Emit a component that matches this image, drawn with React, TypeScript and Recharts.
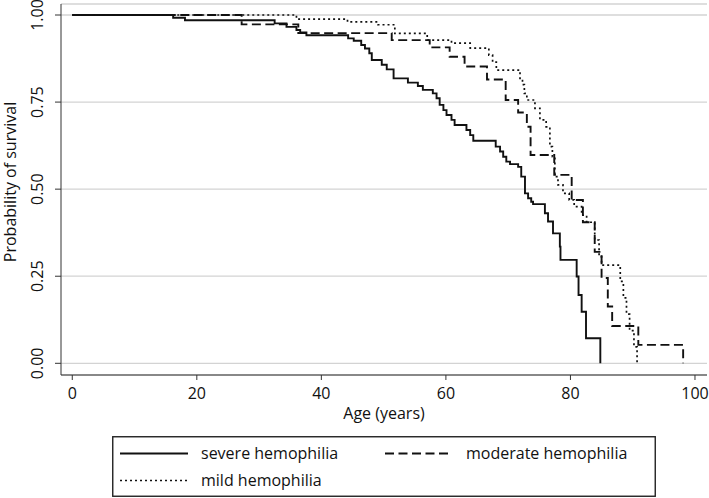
import React from "react";
import { LineChart, Line, XAxis, YAxis, CartesianGrid } from "recharts";

const FONT = "'Open Sans', 'Noto Sans', sans-serif";

// Kaplan-Meier estimates (age in years, probability of survival)
const severeAge = [0, 16.2, 18.1, 32.5, 34.4, 36.0, 36.6, 37.6, 44.3, 45.2, 46.4, 47.0, 47.7, 48.1, 49.7, 50.5, 51.6, 53.9, 55.5, 56.3, 57.9, 58.5, 59.0, 59.6, 60.1, 60.9, 61.4, 63.3, 63.9, 64.4, 68.0, 68.7, 69.2, 69.7, 70.3, 71.6, 72.1, 72.7, 73.2, 73.7, 74.0, 75.9, 76.4, 77.2, 78.3, 78.4, 81.0, 81.3, 81.8, 82.5, 84.8];
const severeSurv = [1, 0.992, 0.985, 0.976, 0.966, 0.957, 0.95, 0.942, 0.933, 0.926, 0.914, 0.904, 0.89, 0.871, 0.857, 0.844, 0.818, 0.806, 0.796, 0.785, 0.775, 0.761, 0.742, 0.727, 0.713, 0.699, 0.684, 0.67, 0.655, 0.639, 0.622, 0.608, 0.593, 0.579, 0.572, 0.564, 0.536, 0.488, 0.474, 0.464, 0.457, 0.431, 0.407, 0.373, 0.335, 0.297, 0.249, 0.196, 0.148, 0.072, 0];

const moderateAge = [0, 27.2, 36.3, 51.3, 57.4, 60.6, 63.0, 66.6, 69.6, 71.6, 73.0, 73.6, 77.4, 80.2, 82.0, 83.9, 85.0, 86.0, 86.7, 90.9, 98.1];
const moderateSurv = [1, 0.973, 0.948, 0.928, 0.907, 0.88, 0.852, 0.815, 0.756, 0.72, 0.679, 0.598, 0.541, 0.469, 0.405, 0.32, 0.245, 0.163, 0.107, 0.053, 0];

const mildAge = [0, 36.0, 44.2, 49.1, 51.8, 57.0, 60.9, 63.9, 66.9, 67.5, 68.1, 71.9, 72.3, 72.6, 73.0, 74.3, 75.1, 76.1, 76.7, 77.1, 77.5, 78.0, 78.8, 79.8, 80.6, 81.8, 82.6, 83.9, 84.6, 85.0, 88.0, 88.5, 89.0, 89.5, 90.2, 90.7];
const mildSurv = [1, 0.988, 0.98, 0.972, 0.947, 0.928, 0.919, 0.905, 0.885, 0.865, 0.842, 0.818, 0.8, 0.775, 0.756, 0.732, 0.699, 0.679, 0.622, 0.593, 0.536, 0.512, 0.488, 0.469, 0.45, 0.425, 0.405, 0.354, 0.306, 0.282, 0.235, 0.188, 0.141, 0.094, 0.047, 0];

const xTicks = [0, 20, 40, 60, 80, 100];
const yTicks = [0, 0.25, 0.5, 0.75, 1];

const toPoints = (ages: number[], surv: number[]) =>
  ages.map((age, i) => ({ age, s: surv[i] }));

const severe = toPoints(severeAge, severeSurv);
const moderate = toPoints(moderateAge, moderateSurv);
const mild = toPoints(mildAge, mildSurv);

// y tick labels are turned on their side, like the original
const YTick = ({ x, y, payload }: any) => (
  <text
    x={x}
    y={y}
    transform={`rotate(-90, ${x}, ${y})`}
    textAnchor="middle"
    fontSize={16}
    fontFamily={FONT}
    fill="#111"
  >
    {Number(payload.value).toFixed(2)}
  </text>
);

export default function App() {
  return (
    <div
      style={{
        position: "absolute",
        left: 0,
        top: 0,
        width: 709,
        height: 498,
        background: "#fff",
        fontFamily: FONT,
      }}
    >
      <LineChart width={709} height={430} margin={{ top: 4, right: 2, left: 0, bottom: 0 }}>
        <CartesianGrid vertical={false} stroke="#d3d3d3" strokeWidth={1.3} />
        <XAxis
          type="number"
          dataKey="age"
          domain={[-1.81, 101.93]}
          ticks={xTicks}
          allowDataOverflow
          height={55}
          tickSize={5}
          tickMargin={8}
          stroke="#333"
          tick={{ fill: "#111", fontSize: 16, fontFamily: FONT }}
          label={{
            content: ({ viewBox }: any) => (
              <text
                x={viewBox.x + viewBox.width / 2}
                y={419}
                textAnchor="middle"
                fontSize={16}
                fontFamily={FONT}
                fill="#111"
              >
                Age (years)
              </text>
            ),
          }}
        />
        <YAxis
          type="number"
          domain={[-0.0336, 1.0316]}
          ticks={yTicks}
          allowDataOverflow
          width={61}
          tickSize={6}
          tickMargin={12}
          stroke="#333"
          tick={<YTick />}
          label={{
            content: () => (
              <text
                x={16}
                y={182}
                transform="rotate(-90, 16, 182)"
                textAnchor="middle"
                fontSize={16}
                fontFamily={FONT}
                fill="#111"
              >
                Probability of survival
              </text>
            ),
          }}
        />
        <Line data={severe} dataKey="s" type="stepAfter" stroke="#111" strokeWidth={1.9} dot={false} activeDot={false} isAnimationActive={false} />
        <Line data={moderate} dataKey="s" type="stepAfter" stroke="#111" strokeWidth={1.9} strokeDasharray="9 4.5" dot={false} activeDot={false} isAnimationActive={false} />
        <Line data={mild} dataKey="s" type="stepAfter" stroke="#111" strokeWidth={1.7} strokeDasharray="2 3" dot={false} activeDot={false} isAnimationActive={false} />
      </LineChart>

      <svg
        width={544}
        height={61}
        style={{ position: "absolute", left: 112, top: 436 }}
        fontFamily={FONT}
        fontSize={16}
      >
        <rect x={0.75} y={0.75} width={542.5} height={59.5} fill="#fff" stroke="#222" strokeWidth={1.4} />
        <line x1={8} y1={17.5} x2={76} y2={17.5} stroke="#111" strokeWidth={1.8} />
        <text x={89} y={23} fill="#111">severe hemophilia</text>
        <line x1={273} y1={17.5} x2={340} y2={17.5} stroke="#111" strokeWidth={1.8} strokeDasharray="9 4.5" />
        <text x={354} y={23} fill="#111">moderate hemophilia</text>
        <line x1={8} y1={44.5} x2={76} y2={44.5} stroke="#111" strokeWidth={1.6} strokeDasharray="2 3" />
        <text x={89} y={50} fill="#111">mild hemophilia</text>
      </svg>
    </div>
  );
}
